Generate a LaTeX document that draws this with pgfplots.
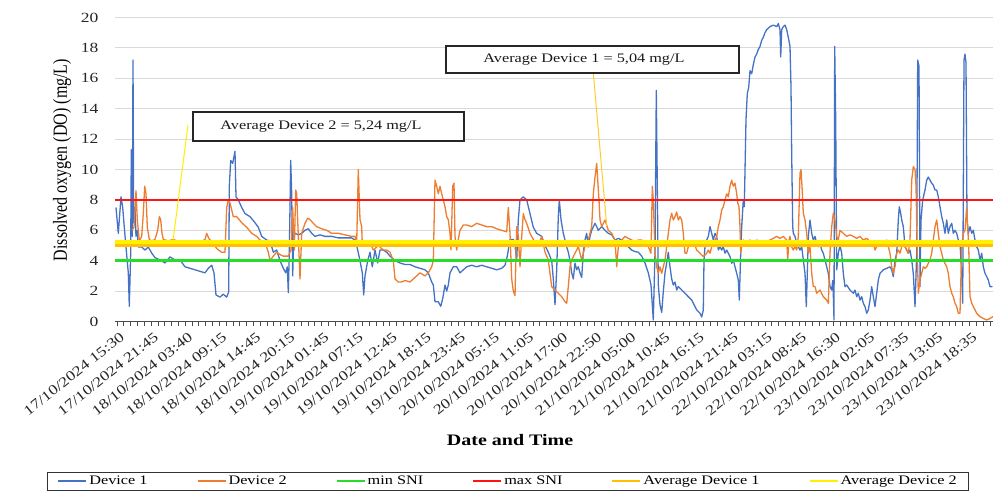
\documentclass[border=0pt]{standalone}
\usepackage{fontspec}
\setmainfont{Liberation Serif}[FakeStretch=1.25]
\newfontfamily\yfont{Liberation Serif}[FakeStretch=0.8]
\usepackage{pgfplots}
\pgfplotsset{compat=1.18}
\definecolor{dblue}{RGB}{68,114,196}
\definecolor{dorange}{RGB}{237,125,49}
\definecolor{sgreen}{RGB}{40,220,40}
\definecolor{sred}{RGB}{255,20,20}
\definecolor{gold}{RGB}{255,192,0}
\definecolor{yel}{RGB}{255,240,0}
\definecolor{goldline}{RGB}{255,205,40}
\begin{document}
\begin{tikzpicture}
\useasboundingbox (-115pt,-175.5pt) rectangle (878pt,321.5pt);
\begin{axis}[
  at={(0pt,0pt)}, anchor=south west,
  scale only axis, width=878pt, height=304pt,
  xmin=115, xmax=993, ymin=0, ymax=20,
  axis x line*=bottom, axis y line*=left,
  y axis line style={draw=none},
  x axis line style={black!70, line width=0.9pt},
  ytick={0,2,...,20},
  ytick style={draw=none},
  ymajorgrids, grid style={gray!30, line width=0.8pt},
  xtick={117,151.1,185.2,219.3,253.4,287.5,321.6,355.7,389.8,423.9,458,492.1,526.2,560.3,594.4,628.5,662.6,696.7,730.8,764.9,799,833.1,867.2,901.3,935.4,969.5},
  xticklabels={17/10/2024 15:30,17/10/2024 21:45,18/10/2024 03:40,18/10/2024 09:15,18/10/2024 14:45,18/10/2024 20:15,19/10/2024 01:45,19/10/2024 07:15,19/10/2024 12:45,19/10/2024 18:15,19/10/2024 23:45,20/10/2024 05:15,20/10/2024 11:05,20/10/2024 17:00,20/10/2024 22:50,21/10/2024 05:00,21/10/2024 10:45,21/10/2024 16:15,21/10/2024 21:45,22/10/2024 03:15,22/10/2024 08:45,22/10/2024 16:30,23/10/2024 02:05,23/10/2024 07:35,23/10/2024 13:05,23/10/2024 18:35},
  minor xtick={117,123.82,...,993},
  tick align=outside,
  major tick length=5pt, minor tick length=5pt,
  xtick style={black!70, line width=0.8pt},
  minor tick style={black!70, line width=0.8pt},
  xticklabel style={font=\fontsize{14}{16}\selectfont, rotate=38.7, anchor=north east, inner sep=1pt, text=black!85, yshift=-4pt},
  yticklabel style={font=\fontsize{14}{16}\selectfont, xshift=-8pt, text=black!85},
  /pgf/number format/assume math mode=true,
  xlabel={\bfseries Date and Time},
  xlabel style={at={(axis description cs:0.45,-0.39)}, anchor=center, font=\fontsize{16}{18}\selectfont},
  ylabel={\yfont Dissolved oxygen (DO) (mg/L)},
  ylabel style={at={(axis description cs:-0.0604,0.531)}, anchor=center, font=\fontsize{20}{22}\selectfont},
  legend columns=6,
  legend cell align=left,
  legend image code/.code={\draw[#1, line width=2pt] (0pt,0pt) -- (28pt,0pt);},
  legend style={at={(0.4476,-0.526)}, anchor=center, draw=black!80, line width=0.8pt,
    font=\fontsize{13}{15}\selectfont, inner xsep=10pt, inner ysep=2pt,
    /tikz/every even column/.append style={column sep=47pt}},
]
\addplot[dblue, line width=1.3pt, line join=round] coordinates {
(116,7.5) (118.3,5.8) (121,8.2) (122.7,7.5) (124.3,6.2) (126,4.9) (128.3,3.2) (129.3,1.0) (130.7,4.5) (131.3,11.3) (132.3,5.6) (133,17.2) (133.7,6.5) (135,7.5) (136,5.6) (137.3,6.0) (138.3,4.9) (141.7,4.9) (145,4.7) (148.3,4.9) (151.7,4.5) (155,4.2) (160,4.05) (165,3.85) (170,4.25) (175,4.05) (180,4.05) (185,3.6) (190,3.5) (195,3.4) (200,3.3) (205,3.2) (208.3,3.5) (211.7,3.7) (214,3.2) (216,1.75) (220,1.6) (223.3,1.8) (226.7,1.6) (228.7,1.95) (229.3,8.9) (230.7,10.6) (232.7,10.4) (235,11.2) (236,8.2) (238.3,8.0) (241.7,7.5) (245,7.1) (250,6.9) (255,6.5) (258.3,6.2) (261.7,5.6) (266.7,5.36) (270,5.3) (273.3,4.56) (276.7,4.7) (280,4.0) (283.3,3.5) (285.7,3.2) (287.3,3.6) (288.3,1.9) (289.3,4.5) (290.7,10.6) (291.7,8.4) (292.7,3.0) (293.7,5.6) (295,5.8) (298.3,5.7) (301.7,5.8) (305,6.0) (308.3,6.1) (311.7,5.8) (315,5.6) (320,5.7) (325,5.6) (331.7,5.6) (338.3,5.5) (345,5.5) (351.7,5.5) (355,5.36) (356.7,5.0) (360,4.0) (362.3,3.2) (363.7,1.75) (365,3.0) (367.7,4.0) (370,4.56) (372.3,3.6) (375,4.7) (377.7,3.85) (380,4.7) (383.3,4.7) (386.7,4.56) (390,4.3) (395,4.0) (400,3.85) (405,3.75) (410,3.75) (415,3.6) (420,3.5) (425,3.4) (428.3,3.2) (431.7,2.6) (433.3,2.4) (435,1.3) (438.3,1.3) (440.7,1.0) (442.7,1.5) (445,2.4) (446.7,2.0) (448.3,2.4) (450,3.2) (453.3,3.6) (456.7,3.6) (460,3.2) (463.3,3.4) (466.7,3.6) (471.7,3.7) (476.7,3.6) (481.7,3.7) (486.7,3.6) (491.7,3.5) (496.7,3.4) (501.7,3.5) (505,3.7) (507.3,4.3) (510,5.4) (513.3,5.4) (515,5.0) (516.7,4.0) (518.3,6.7) (520,8.0) (523.3,8.2) (526.7,8.0) (530,7.1) (533.3,6.2) (536.7,5.8) (541.7,5.6) (545,5.0) (548.3,4.56) (551.7,4.0) (553.3,2.8) (555,1.1) (556.7,3.4) (558.3,6.9) (559.3,8.0) (561,6.7) (563.3,5.8) (565,5.36) (566.7,4.9) (568.3,4.56) (570,4.0) (571.7,3.2) (573.3,2.8) (575,3.85) (576.7,3.4) (578.3,3.6) (580,3.2) (581.7,2.9) (583.3,4.56) (585,5.36) (586.7,5.8) (588.3,4.9) (590,5.6) (591.7,6.0) (595,6.46) (596.7,6.24) (598.3,6.0) (601.7,6.24) (605,6.0) (608.3,5.8) (611.7,5.7) (615,5.36) (618.3,5.47) (621.7,5.36) (625,5.14) (628.3,4.92) (631.7,4.7) (635,4.6) (638.3,4.56) (641.7,4.3) (645,3.85) (648.3,3.2) (651,2.4) (652.3,1.1) (653.3,0.1) (655,4.56) (656.3,15.2) (657.3,8.9) (658.3,2.4) (660,1.1) (661.7,0.6) (663.3,1.97) (665,3.2) (666.7,3.85) (668.3,4.56) (670,3.6) (671.7,2.8) (673.3,2.4) (675,2.6) (676.7,2.07) (678.3,2.3) (681.7,2.07) (685,1.86) (688.3,1.63) (691.7,1.41) (695,0.98) (696.7,0.76) (700,0.54) (701.7,0.3) (703.3,0.76) (704,4.05) (705,4.92) (706.7,5.36) (708.3,5.6) (710,6.24) (711.7,5.8) (713.3,5.36) (715,5.8) (716.7,5.6) (718.3,4.7) (720,4.92) (721.7,4.7) (723.3,4.92) (725,4.49) (726.7,4.7) (728.3,4.49) (730,4.27) (731.7,3.83) (733.3,4.05) (735,3.6) (736.7,3.17) (738.3,2.73) (739.3,1.41) (740.7,4.49) (741.7,6.24) (743.3,8.0) (744.3,7.55) (746,13.3) (747.3,15.0) (748.7,15.4) (750,16.5) (751.7,16.3) (753.3,16.9) (755,17.4) (756.7,17.6) (758.3,17.9) (760,18.1) (761.7,18.5) (763.3,18.7) (765,19.0) (766.7,19.2) (770,19.4) (773.3,19.5) (776.7,19.4) (778.3,19.6) (780,19.2) (780.7,17.4) (781.7,19.2) (783.3,19.4) (785,19.5) (786.7,19.2) (788.3,18.7) (790,18.1) (791,15.4) (791.7,11.0) (792.7,6.24) (793.3,5.8) (795,5.6) (796.7,5.14) (798.3,4.92) (800,4.7) (801.7,4.92) (803.3,4.05) (805,3.17) (806.3,0.98) (807.7,4.05) (808.3,5.6) (810,6.68) (811.7,5.8) (813.3,5.36) (815,5.6) (816.7,5.14) (818.3,4.92) (820,5.14) (821.7,4.7) (823.3,4.49) (825,4.05) (826.7,3.6) (828.3,3.17) (830,2.3) (831.7,2.07) (832.7,2.7) (833.3,1.8) (834,0.1) (834.7,18.1) (835.7,13.3) (836.7,3.4) (838.3,4.49) (840,5.0) (841.7,4.49) (843.3,3.17) (845,2.29) (846.7,2.4) (850,2.07) (853.3,1.86) (855,2.07) (856.7,1.63) (858.3,1.86) (860,1.41) (861.7,1.63) (863.3,1.2) (865,0.98) (866.7,0.54) (868.3,0.76) (870,1.41) (871.7,2.29) (873.3,1.63) (875,0.98) (876.7,1.86) (878.3,2.73) (880,3.17) (883.3,3.4) (886.7,3.5) (890,3.6) (891.7,3.4) (893.3,2.95) (895,4.05) (896.7,4.49) (898.3,6.68) (899.3,7.55) (900.7,7.12) (901.7,6.68) (903.3,6.24) (905,4.92) (906.7,4.7) (908.3,4.49) (910,4.7) (911.7,4.05) (913.3,3.17) (915,0.98) (916.7,4.49) (917.7,17.2) (919,16.8) (920,2.29) (921,6.68) (922.7,8.0) (925,8.65) (926.7,9.3) (928.3,9.5) (930,9.3) (931.7,9.1) (933.3,8.97) (935,8.65) (936.7,8.65) (938.3,8.2) (940,7.55) (941.7,6.9) (943.3,6.46) (945,5.8) (946.7,6.68) (948.3,5.8) (950,6.24) (951.7,6.46) (953.3,5.8) (955,6.0) (956.7,5.8) (958.3,5.36) (960,5.14) (961.7,3.17) (962.7,1.2) (964,17.2) (965,17.6) (966,17.0) (967,6.68) (968.3,5.8) (970,6.24) (971.7,5.8) (973.3,6.0) (975,5.36) (976.7,4.92) (978.3,4.7) (980,4.05) (981.7,4.49) (983.3,3.6) (985,3.17) (986.7,2.95) (988.3,2.73) (990,2.29) (992.5,2.3)
};
\addlegendentry{Device 1}
\addplot[dorange, line width=1.3pt, line join=round] coordinates {
(132,6.0) (134,6.2) (136,8.6) (137.3,6.7) (139.3,5.3) (141.7,5.6) (143.3,7.1) (144.7,8.9) (146,8.4) (147.3,6.2) (149.3,5.4) (151.7,5.3) (155,5.4) (157.7,6.0) (159.3,6.9) (160.7,6.7) (162,5.8) (163.3,5.4) (168.3,5.3) (173.3,5.4) (180,5.2) (186.7,5.3) (193.3,5.0) (200,5.2) (205,5.4) (206.7,5.8) (209.3,5.4) (211.7,5.3) (216.7,4.8) (221.7,4.55) (225,4.55) (226.7,7.5) (228.3,8.0) (230,7.8) (233.3,6.9) (236.7,6.9) (241.7,6.5) (246.7,6.2) (251.7,5.8) (256.7,5.6) (260,5.36) (265,5.2) (268.3,4.56) (270,4.0) (273.3,4.3) (276.7,4.56) (280,4.4) (283.3,4.3) (288.3,4.3) (291,4.7) (292.7,7.5) (294.3,4.7) (295.7,8.65) (296.7,8.4) (298.3,5.6) (300,2.8) (301.7,5.8) (305,6.46) (307.7,6.8) (310,6.7) (313.3,6.46) (316.7,6.24) (321.7,6.1) (326.7,6.0) (331.7,5.8) (338.3,5.8) (345,5.7) (351.7,5.6) (355,5.6) (356.7,5.2) (358.3,10.0) (360,6.7) (361.7,6.24) (362.3,5.0) (365,5.0) (370,5.2) (373.3,4.7) (378.3,5.0) (383.3,4.7) (386.7,4.7) (390,4.56) (393.3,4.0) (395,2.8) (398.3,2.6) (401.7,2.6) (405,2.7) (410,2.6) (413.3,2.8) (416.7,3.0) (420,3.2) (425,3.0) (428.3,3.2) (431.7,3.6) (433.3,4.0) (435,9.3) (436.7,8.9) (438.3,8.4) (440,8.9) (441.7,8.4) (443.3,8.0) (445,7.55) (446.7,6.9) (448.3,6.7) (450,5.8) (451,4.7) (452.7,8.9) (454,9.1) (455,5.6) (456.7,4.7) (458.3,5.4) (460,6.0) (463.3,6.35) (466.7,6.35) (471.7,6.24) (476.7,6.46) (481.7,6.35) (486.7,6.24) (491.7,6.24) (496.7,6.1) (501.7,6.0) (506.7,5.9) (508.3,7.5) (510,5.8) (511.7,2.8) (513.3,2.0) (515,1.7) (516.7,6.24) (518.3,5.6) (520,3.6) (521.7,5.6) (523.3,7.1) (525,6.7) (526.7,6.46) (530,5.8) (533.3,5.4) (538.3,5.0) (541.7,5.6) (545,4.56) (548.3,4.05) (551.7,2.3) (555,2.07) (558.3,1.86) (561.7,1.63) (565,1.3) (566.7,1.2) (568.3,2.3) (570,3.6) (571.7,4.05) (575,4.49) (578.3,4.92) (581.7,4.05) (585,4.92) (588.3,5.36) (591.7,6.24) (593.3,8.4) (595,9.5) (596.7,10.4) (597.7,9.3) (599,8.0) (600,6.7) (601.7,6.24) (605,6.68) (608.3,6.0) (611.7,5.8) (615,5.36) (616.7,3.6) (618.3,4.92) (621.7,5.36) (625,5.6) (628.3,5.47) (631.7,5.36) (635,5.25) (638.3,5.36) (641.7,5.36) (645,5.14) (648.3,4.92) (651,4.49) (652.3,8.9) (653.3,8.0) (655,4.49) (656.7,3.6) (658.3,3.17) (660,3.6) (661.7,3.17) (665,4.05) (666.7,4.92) (668.3,5.8) (670,6.68) (671.7,7.12) (673.3,6.68) (675,6.9) (676.7,7.2) (678.3,6.68) (680,6.9) (681.7,6.68) (683.3,5.8) (685,4.49) (686.7,4.49) (688.3,4.92) (691.7,5.14) (695,5.0) (696.7,4.7) (698.3,4.6) (700,4.49) (703.3,4.27) (706.7,4.49) (708.3,4.7) (710,4.49) (711.7,4.92) (713.3,5.14) (716.7,5.6) (718.3,6.24) (720,6.68) (721.7,7.34) (723.3,7.55) (725,8.0) (726.7,8.4) (728.3,8.2) (730,8.9) (731.7,9.3) (733.3,8.9) (735,9.1) (736.7,8.4) (737.7,7.8) (739,7.55) (740,6.24) (740.7,4.49) (741.7,4.92) (743.3,5.36) (746.7,5.14) (750,5.36) (753.3,5.14) (756.7,5.36) (760,5.25) (763.3,5.14) (766.7,5.25) (770,5.36) (773.3,5.47) (776.7,5.6) (780,5.47) (783.3,5.6) (786.7,5.36) (787.7,4.05) (789,5.36) (790,5.6) (791.7,4.92) (793.3,4.7) (795,4.92) (796.7,4.7) (798.3,5.6) (800,9.75) (801,10.0) (802,8.9) (803.3,7.12) (805,6.68) (806.7,5.8) (808.3,4.49) (810,4.92) (811.7,3.17) (813.3,2.3) (815,2.3) (816.7,1.86) (820,2.07) (823.3,1.63) (826.7,1.41) (828.3,1.2) (830,4.49) (831.7,6.24) (833.3,7.12) (835,6.68) (836.7,5.6) (838.3,5.36) (840,6.0) (843.3,5.8) (846.7,5.6) (850,5.7) (853.3,5.6) (856.7,5.47) (860,5.6) (863.3,5.36) (866.7,5.47) (870,5.25) (873.3,5.14) (875,4.7) (876.7,4.92) (878.3,5.14) (880,5.25) (883.3,5.14) (886.7,5.36) (888.3,4.92) (890,4.49) (891.7,3.6) (893.3,3.17) (895,3.6) (896.7,4.49) (898.3,4.7) (900,4.49) (901.7,4.92) (903.3,5.14) (905,4.92) (906.7,4.7) (908.3,4.49) (910,5.36) (911.7,9.3) (913.3,10.2) (915,10.0) (916,8.9) (917.3,4.49) (918.3,1.86) (920,2.73) (921.7,3.17) (923.3,3.6) (925,3.5) (926.7,3.6) (928.3,3.83) (930,4.05) (931.7,4.49) (933.3,5.36) (935,6.24) (936.7,6.68) (938.3,5.8) (940,4.92) (941.7,4.49) (943.3,4.05) (946.7,3.6) (948.3,3.17) (950,2.29) (951.7,1.86) (953.3,1.63) (955,1.2) (956.7,0.98) (958.3,0.54) (960,0.54) (961.7,4.92) (963.3,5.8) (965,6.0) (966.7,7.55) (967.7,6.24) (968.7,4.92) (970,1.63) (971.7,1.2) (973.3,0.98) (976.7,0.54) (980,0.32) (983.3,0.2) (986.7,0.1) (990,0.2) (993,0.32)
};
\addlegendentry{Device 2}
\addplot[sgreen, line width=2.5pt] coordinates {(115,4) (993,4)};
\addlegendentry{min SNI}
\addplot[sred, line width=2.5pt] coordinates {(115,8) (993,8)};
\addlegendentry{max SNI}
\addplot[gold, line width=4pt] coordinates {(115,5.04) (993,5.04)};
\addlegendentry{Average Device 1}
\addplot[yel, line width=4pt] coordinates {(115,5.24) (993,5.24)};
\addlegendentry{Average Device 2}
\draw[yel, line width=1pt] (axis cs:188,12.93) -- (axis cs:173,5.3);
\draw[goldline, line width=1pt] (axis cs:593.3,16.35) -- (axis cs:606.7,6.3);
\draw[black!85, line width=1.2pt, fill=white] (axis cs:193,11.88) rectangle (axis cs:464,13.78);
\node[font=\fontsize{13}{15}\selectfont, text=black!90] at (axis cs:321,12.83) {Average Device 2 = 5,24 mg/L};
\draw[black!85, line width=1.2pt, fill=white] (axis cs:446,16.35) rectangle (axis cs:739,18.13);
\node[font=\fontsize{13}{15}\selectfont, text=black!90] at (axis cs:584,17.24) {Average Device 1 = 5,04 mg/L};
\end{axis}
\end{tikzpicture}
\end{document}
